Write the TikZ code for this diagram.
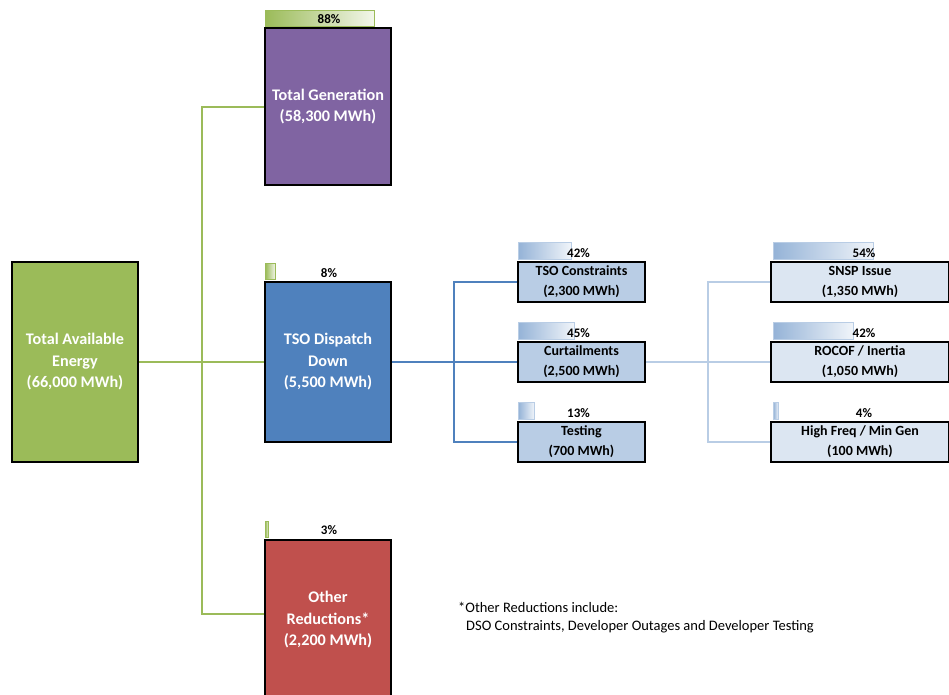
\documentclass[tikz,border=0pt]{standalone}
\usepackage{fontspec}
\setmainfont{Carlito}
\definecolor{cgreen}{HTML}{9BBB59}
\definecolor{cpurple}{HTML}{8064A2}
\definecolor{cblue}{HTML}{4F81BD}
\definecolor{cred}{HTML}{C0504D}
\definecolor{clblue}{HTML}{B9CDE5}
\definecolor{cvlblue}{HTML}{DCE6F2}
\definecolor{cbarblue}{HTML}{95B3D7}
\begin{document}
\begin{tikzpicture}[x=1pt,y=-1pt,
  bigbox/.style={draw=black,line width=2pt,text=white,font=\bfseries\fontsize{16.2}{21.5}\selectfont,align=center,anchor=north west,inner sep=0pt,minimum width=126pt},
  midbox/.style={draw=black,line width=2pt,fill=clblue,text=black,font=\bfseries\fontsize{14}{20}\selectfont,align=center,anchor=north west,inner sep=0pt,minimum width=127pt,minimum height=40pt},
  smallbox/.style={midbox,fill=cvlblue,minimum width=178pt},
  pct/.style={font=\bfseries\fontsize{13}{14}\selectfont,inner sep=0pt},
  gbar/.style={draw=cgreen,line width=0.8pt,left color=cgreen,right color=cgreen!12,anchor=north west,inner sep=0pt,minimum height=16pt},
  bbar/.style={draw=clblue,line width=0.8pt,left color=cbarblue,right color=cvlblue!40,anchor=north west,inner sep=0pt,minimum height=17pt},
  gconn/.style={draw=cgreen,line width=2pt},
  bconn/.style={draw=cblue,line width=2pt},
  lconn/.style={draw=clblue,line width=2pt},
  note/.style={font=\fontsize{14.5}{16}\selectfont,anchor=west,inner sep=0pt}]
\useasboundingbox (0,0) rectangle (949,694);
\clip (0,0) rectangle (949,694);

% main boxes
\node[bigbox,fill=cgreen,minimum width=126pt,minimum height=200pt] (tae) at (11,261) {Total Available\\Energy\\(66,000 MWh)};
\node[bigbox,fill=cpurple,minimum height=157pt] (tg) at (264,27) {Total Generation\\(58,300 MWh)};
\node[bigbox,fill=cblue,minimum height=160pt] (tsd) at (264,281) {TSO Dispatch\\Down\\(5,500 MWh)};
\node[bigbox,fill=cred,minimum height=160pt] (or) at (264,539) {Other\\Reductions*\\(2,200 MWh)};

% bars level 1
\node[gbar,minimum width=109pt] (b1) at (265,10) {};
\node[gbar,minimum width=10pt] (b2) at (265,263) {};
\node[gbar,minimum width=3pt] (b3) at (265,521) {};
\node[pct] (p1) at ([xshift=1pt,yshift=8pt]tg.north) {88\%};
\node[pct] (p2) at ([xshift=1pt,yshift=8pt]tsd.north) {8\%};
\node[pct] (p3) at ([xshift=1pt,yshift=9pt]or.north) {3\%};

% level 2
\node[midbox] (tc) at (517,261) {TSO Constraints\\(2,300 MWh)};
\node[midbox] (cu) at (517,341) {Curtailments\\(2,500 MWh)};
\node[midbox] (te) at (517,421) {Testing\\(700 MWh)};
\node[bbar,minimum width=53pt] (b4) at (518,242) {};
\node[bbar,minimum width=56pt] (b5) at (518,322) {};
\node[bbar,minimum width=16pt] (b6) at (518,402) {};
\node[pct] (p4) at ([xshift=-3pt,yshift=8pt]tc.north) {42\%};
\node[pct] (p5) at ([xshift=-3pt,yshift=8pt]cu.north) {45\%};
\node[pct] (p6) at ([xshift=-3pt,yshift=8pt]te.north) {13\%};

% level 3
\node[smallbox] (sn) at (770,261) {SNSP Issue\\(1,350 MWh)};
\node[smallbox] (ro) at (770,341) {ROCOF / Inertia\\(1,050 MWh)};
\node[smallbox] (hf) at (770,421) {High Freq / Min Gen\\(100 MWh)};
\node[bbar,minimum width=100pt] (b7) at (773,242) {};
\node[bbar,minimum width=80pt] (b8) at (773,322) {};
\node[bbar,minimum width=5pt] (b9) at (773,402) {};
\node[pct] (p7) at ([xshift=4pt,yshift=8pt]sn.north) {54\%};
\node[pct] (p8) at ([xshift=4pt,yshift=8pt]ro.north) {42\%};
\node[pct] (p9) at ([xshift=4pt,yshift=8pt]hf.north) {4\%};

% connectors
\coordinate (gb) at (202,614);
\draw[gconn] (tae.east) -- (tsd.west);
\draw[gconn] (tg.west) -| (gb) -- (or.west |- gb);

\coordinate (bx) at (454,361);
\draw[bconn] (tsd.east) -- (cu.west);
\draw[bconn] (tc.west) -| (bx) |- (te.west);

\coordinate (lx) at (708,361);
\draw[lconn] (cu.east) -- (ro.west);
\draw[lconn] (sn.west) -| (lx) |- (hf.west);

\node[note] (n1) at (458,607) {*Other Reductions include:};
\node[note] (n2) at (466,627) {DSO Constraints, Developer Outages and Developer Testing};
\end{tikzpicture}
\end{document}
